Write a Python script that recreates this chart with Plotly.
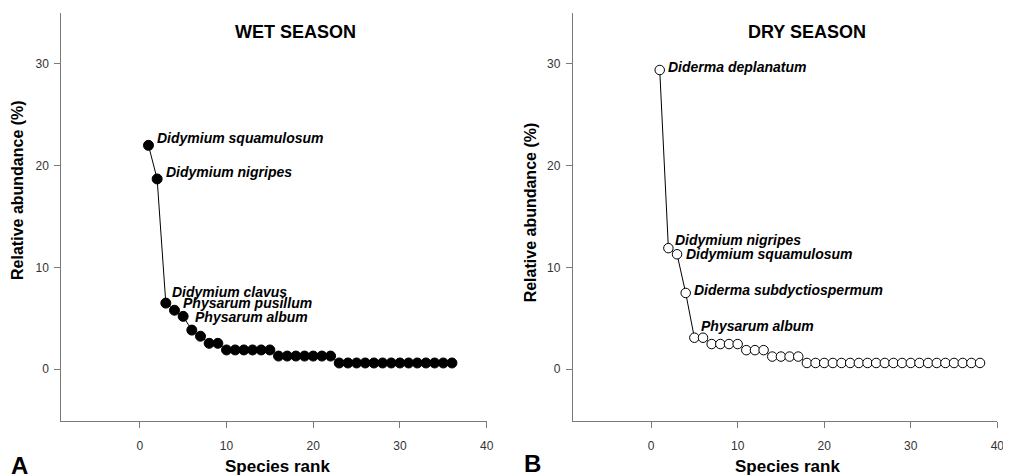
import plotly.graph_objects as go

# ---------------- data ----------------
wet_values = [22.0, 18.7, 6.5, 5.8, 5.2, 3.85, 3.25, 2.55, 2.55,
              1.9, 1.9, 1.9, 1.9, 1.9, 1.9,
              1.3, 1.3, 1.3, 1.3, 1.3, 1.3, 1.3,
              0.62, 0.62, 0.62, 0.62, 0.62, 0.62, 0.62,
              0.62, 0.62, 0.62, 0.62, 0.62, 0.62, 0.62]
dry_values = [29.4, 11.9, 11.3, 7.5, 3.1, 3.1,
              2.48, 2.48, 2.48, 2.48,
              1.88, 1.88, 1.88,
              1.25, 1.25, 1.25, 1.25,
              0.62, 0.62, 0.62, 0.62, 0.62, 0.62, 0.62, 0.62, 0.62, 0.62, 0.62,
              0.62, 0.62, 0.62, 0.62, 0.62, 0.62, 0.62, 0.62, 0.62, 0.62]
wet_ranks = list(range(1, len(wet_values) + 1))
dry_ranks = list(range(1, len(dry_values) + 1))

wet_labels = ["Didymium squamulosum", "Didymium nigripes", "Didymium clavus",
              "Physarum pusillum", "Physarum album"]
dry_labels = ["Diderma deplanatum", "Didymium nigripes", "Didymium squamulosum",
              "Diderma subdyctiospermum", "Physarum album"]
# pixel offsets of the label text relative to its point
wet_label_shift = [(7, 7), (7, 7), (4, 11), (7, 7), (10, -1)]
dry_label_shift = [(6, 3), (5, 8), (7, 0), (6, 3), (5, 12)]

x_ticks = [0, 10, 20, 30, 40]
y_ticks = [0, 10, 20, 30]
titles = ["WET SEASON", "DRY SEASON"]

# page body has an 8px default margin: compensate
OFF = 8
W, H = 1011 - OFF, 476 - OFF
FONT = "Liberation Sans, Arial, sans-serif"
AXIS_COL = "#7a7a7a"
TICK_COL = "#333333"

fig = go.Figure()

fig.add_trace(go.Scatter(
    x=wet_ranks, y=wet_values, mode="lines+markers",
    line=dict(color="black", width=1),
    marker=dict(size=10, color="black", line=dict(color="black", width=1)),
    xaxis="x", yaxis="y", showlegend=False, cliponaxis=False))
fig.add_trace(go.Scatter(
    x=dry_ranks, y=dry_values, mode="lines+markers",
    line=dict(color="black", width=1),
    marker=dict(size=9.5, color="white", line=dict(color="black", width=1)),
    xaxis="x2", yaxis="y2", showlegend=False, cliponaxis=False))

def px_to_paper_x(px):
    return (px - OFF) / W

def px_to_paper_y(py):
    return 1 - (py - OFF) / H

ydom = [px_to_paper_y(420.7), px_to_paper_y(13)]
axis_common = dict(showgrid=False, zeroline=False, showline=True,
                   linecolor=AXIS_COL, linewidth=1, ticks="outside",
                   ticklen=6, tickcolor=AXIS_COL, tickwidth=1,
                   tickfont=dict(family=FONT, size=12, color=TICK_COL))

fig.update_layout(
    width=W, height=H,
    margin=dict(l=0, r=0, t=0, b=0),
    paper_bgcolor="white", plot_bgcolor="white",
    xaxis=dict(domain=[px_to_paper_x(61.7), px_to_paper_x(490)], range=[-9.05, 40],
               tickvals=x_ticks, anchor="y", ticklabelstandoff=8, **axis_common),
    yaxis=dict(domain=ydom, range=[-5.05, 35], tickvals=y_ticks, anchor="x",
               ticklabelstandoff=3, **axis_common),
    xaxis2=dict(domain=[px_to_paper_x(576.7), px_to_paper_x(1004.3)], range=[-9.05, 40],
                tickvals=x_ticks, anchor="y2", ticklabelstandoff=8, **axis_common),
    yaxis2=dict(domain=ydom, range=[-5.05, 35], tickvals=y_ticks, anchor="x2",
                ticklabelstandoff=3, **axis_common),
)

ann = []
# species labels
for i, (name, (dx, dy)) in enumerate(zip(wet_labels, wet_label_shift)):
    ann.append(dict(x=wet_ranks[i], y=wet_values[i], xref="x", yref="y",
                    text="<b><i>" + name + "</i></b>", showarrow=False,
                    xanchor="left", yanchor="middle", xshift=dx, yshift=dy,
                    font=dict(family=FONT, size=14, color="black")))
for i, (name, (dx, dy)) in enumerate(zip(dry_labels, dry_label_shift)):
    ann.append(dict(x=dry_ranks[i], y=dry_values[i], xref="x2", yref="y2",
                    text="<b><i>" + name + "</i></b>", showarrow=False,
                    xanchor="left", yanchor="middle", xshift=dx, yshift=dy,
                    font=dict(family=FONT, size=14, color="black")))
# panel titles
for t, xr, yr in zip(titles, ["x", "x2"], ["y", "y2"]):
    ann.append(dict(x=18, y=33.1, xref=xr, yref=yr, text="<b>" + t + "</b>",
                    showarrow=False, xanchor="center", yanchor="middle",
                    font=dict(family=FONT, size=18, color="black")))
# axis titles
for cx in [279, 793]:
    ann.append(dict(x=px_to_paper_x(cx), y=px_to_paper_y(466), xref="paper", yref="paper",
                    text="<b>Species rank</b>", showarrow=False,
                    xanchor="center", yanchor="middle",
                    font=dict(family=FONT, size=17, color="black")))
for cx, cy in [(18, 190), (534, 212)]:
    ann.append(dict(x=px_to_paper_x(cx), y=px_to_paper_y(cy), xref="paper", yref="paper",
                    text="<b>Relative abundance (%)</b>", showarrow=False, textangle=-90,
                    xanchor="center", yanchor="middle",
                    font=dict(family=FONT, size=16, color="black")))
# panel letters
for letter, cx, cy in [("A", 20, 465), ("B", 536.5, 463.5)]:
    ann.append(dict(x=px_to_paper_x(cx), y=px_to_paper_y(cy), xref="paper", yref="paper",
                    text="<b>" + letter + "</b>", showarrow=False,
                    xanchor="center", yanchor="middle",
                    font=dict(family=FONT, size=24, color="black")))

fig.update_layout(annotations=ann)
fig.write_html("out.html")
